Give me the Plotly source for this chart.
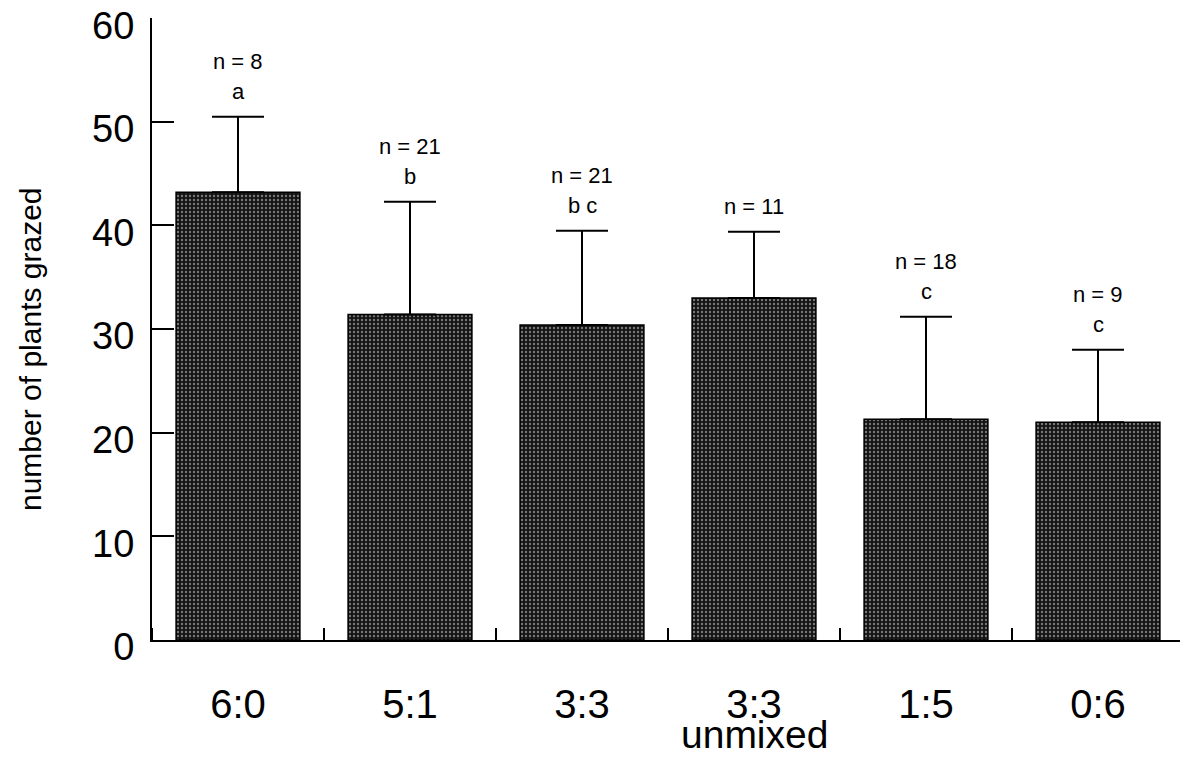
import plotly.graph_objects as go

categories = ["6:0", "5:1", "3:3", "3:3 unmixed", "1:5", "0:6"]
tick_labels = ["6:0", "5:1", "3:3", "3:3", "1:5", "0:6"]
means = [43.2, 31.4, 30.4, 33.0, 21.3, 21.0]
errors_up = [7.3, 10.9, 9.1, 6.4, 9.9, 7.0]
n_labels = ["n = 8", "n = 21", "n = 21", "n = 11", "n = 18", "n = 9"]
letters = ["a", "b", "b c", "", "c", "c"]

FONT = "Liberation Sans, Arial, Helvetica, sans-serif"
x_pos = list(range(len(categories)))

fig = go.Figure()
fig.add_trace(go.Bar(
    x=x_pos,
    y=means,
    width=0.72,
    marker=dict(
        color="#141414",
        line=dict(color="black", width=1.5),
        pattern=dict(shape=".", fgcolor="#dddddd", size=4, solidity=0.28),
    ),
    error_y=dict(type="data", symmetric=False, array=errors_up,
                 arrayminus=[0] * len(means),
                 color="black", thickness=2, width=26),
    showlegend=False,
))

annotations = []
for i, (m, e, n, l) in enumerate(zip(means, errors_up, n_labels, letters)):
    lines = [n, l] if l else [n]
    shifts = [55, 25] if l else [25]
    for txt, s in zip(lines, shifts):
        annotations.append(dict(
            x=x_pos[i], y=m + e, xref="x", yref="y", text=txt, showarrow=False,
            yanchor="middle", yshift=s, font=dict(family=FONT, size=22, color="black"),
        ))

annotations.append(dict(
    x=x_pos[3], y=0, xref="x", yref="paper", text="unmixed", showarrow=False,
    yanchor="top", yshift=-71, font=dict(family=FONT, size=39, color="black"),
))
annotations.append(dict(
    x=(30 - 152) / 1032, y=(640 - 349) / 622, xref="paper", yref="paper",
    text="number of plants grazed", showarrow=False, textangle=-90,
    xanchor="center", yanchor="middle", font=dict(family=FONT, size=30, color="black"),
))

# page body has an 8px margin, so the figure is sized/offset to compensate
fig.update_layout(
    width=1180, height=750,
    margin=dict(l=144, r=4, t=10, b=118, autoexpand=False),
    plot_bgcolor="white", paper_bgcolor="white",
    font=dict(family=FONT, color="black"),
    annotations=annotations,
)
fig.update_xaxes(
    range=[-0.5, 5.5], tickmode="array", tickvals=x_pos, ticktext=tick_labels,
    ticks="", showgrid=False, zeroline=False, automargin=False,
    showline=True, linecolor="black", linewidth=2,
    tickfont=dict(family=FONT, size=40, color="black"),
    ticklabelstandoff=28, ticklabeloverflow="allow",
    minor=dict(tickmode="array", tickvals=[p - 0.5 for p in x_pos] + [x_pos[-1] + 0.5],
               ticks="inside", ticklen=12, tickwidth=2, tickcolor="black", showgrid=False),
)
fig.update_yaxes(
    range=[0, 60.02], tickmode="array", tickvals=[0, 10, 20, 30, 40, 50, 60],
    ticks="inside", ticklen=22, tickwidth=2, tickcolor="black",
    showgrid=False, zeroline=False, automargin=False,
    showline=True, linecolor="black", linewidth=2,
    tickfont=dict(family=FONT, size=38, color="black"),
    ticklabelstandoff=8, ticklabeloverflow="allow", ticklabelshift=7,
)

fig.write_html("out.html")
